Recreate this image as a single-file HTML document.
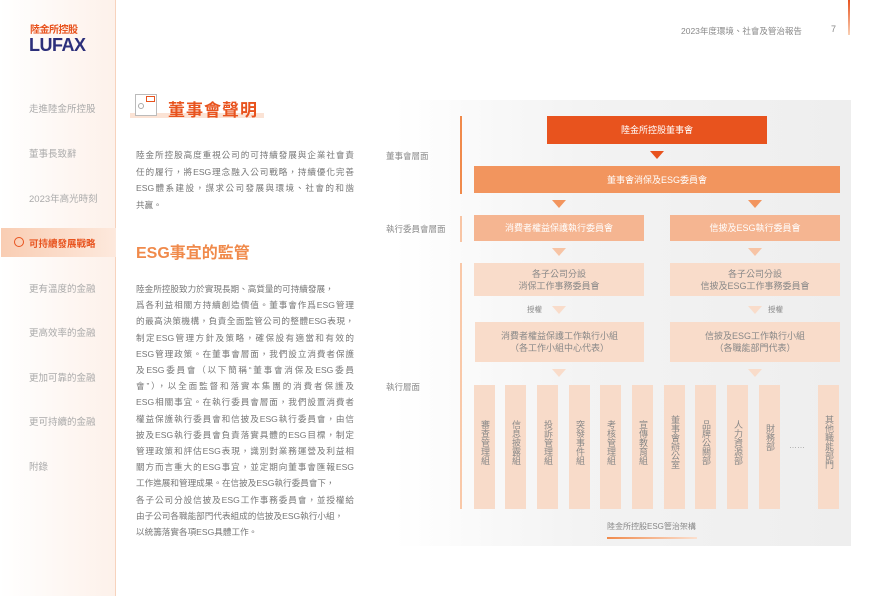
<!DOCTYPE html>
<html><head><meta charset="utf-8"><style>
*{margin:0;padding:0;box-sizing:border-box}
body{width:894px;height:596px;position:relative;overflow:hidden;background:#fff;font-family:"Liberation Sans","Noto Sans CJK TC",sans-serif;color:#777}
.a{position:absolute}
.side{left:0;top:0;width:116px;height:596px;background:linear-gradient(90deg,#fff 0%,#fdf1ea 100%);border-right:1px solid #f7d3bd}
.nav{left:29px;font-size:9.5px;color:#aaa;white-space:nowrap}
.box{position:absolute;display:flex;align-items:center;justify-content:center;text-align:center;font-size:9px;line-height:12px}
.tri{position:absolute;width:0;height:0;border-left:7px solid transparent;border-right:7px solid transparent}
.col{position:absolute;top:385px;width:21px;height:124px;background:#f8dbc9;font-size:9px;color:#888;display:flex;justify-content:center;align-items:center}
.col span{writing-mode:vertical-rl;line-height:11px;margin-top:-10px}
.p{left:136px;width:218px;font-size:8.6px;color:#777;text-align:justify;text-align-last:justify;white-space:nowrap;height:16px;line-height:16px}
.lbl{left:386px;font-size:8.5px;color:#888}
</style></head><body>
<div class="a side"></div>
<div class="a" style="left:30px;top:26px;font-size:10px;line-height:10px;font-weight:bold;color:#e8531e;letter-spacing:-0.5px">陸金所控股</div>
<div class="a" style="left:29px;top:37px;font-size:18px;line-height:16px;font-weight:bold;color:#2c2f7a;letter-spacing:-0.5px">LUFAX</div>
<div class="a nav" style="top:101px">走進陸金所控股</div>
<div class="a nav" style="top:146px">董事長致辭</div>
<div class="a nav" style="top:191px">2023年高光時刻</div>
<div class="a" style="left:1px;top:228px;width:115px;height:29px;background:linear-gradient(90deg,#f9cdb3,#fde9dd)"></div>
<div class="a" style="left:14px;top:237px;width:10px;height:10px;border:1.5px solid #e8531e;border-radius:50%"></div>
<div class="a nav" style="top:236px;color:#e8531e;font-weight:bold">可持續發展戰略</div>
<div class="a nav" style="top:281px">更有溫度的金融</div>
<div class="a nav" style="top:325px">更高效率的金融</div>
<div class="a nav" style="top:370px">更加可靠的金融</div>
<div class="a nav" style="top:414px">更可持續的金融</div>
<div class="a nav" style="top:459px">附錄</div>

<div class="a" style="left:681px;top:25px;font-size:8.5px;color:#888">2023年度環境、社會及管治報告</div>
<div class="a" style="left:831px;top:24px;font-size:9px;color:#888">7</div>
<div class="a" style="left:848px;top:0;width:1.5px;height:35px;background:linear-gradient(#e8531e,#f9d0b5)"></div>

<div class="a" style="left:130px;top:113px;width:134px;height:5px;background:#fbe3d5"></div>
<div class="a" style="left:135px;top:94px;width:22px;height:22px;border:1px solid #bbb;background:#fff"></div>
<div class="a" style="left:146px;top:96px;width:9px;height:6px;border:1.2px solid #e8531e"></div>
<div class="a" style="left:138px;top:103px;width:6px;height:6px;border:1px solid #aaa;border-radius:50%"></div>
<div class="a" style="left:168px;top:96px;font-size:17px;font-weight:bold;color:#e8531e;letter-spacing:1px">董事會聲明</div>

<div class="a p" style="top:147px">陸金所控股高度重視公司的可持續發展與企業社會責</div>
<div class="a p" style="top:164px">任的履行，將ESG理念融入公司戰略，持續優化完善</div>
<div class="a p" style="top:180px">ESG體系建設，謀求公司發展與環境、社會的和諧</div>
<div class="a p" style="top:197px;text-align-last:left">共贏。</div>

<div class="a" style="left:136px;top:239px;font-size:16px;font-weight:bold;color:#f08a4b">ESG事宜的監管</div>
<div class="a p" style="top:281px;text-align-last:left">陸金所控股致力於實現長期、高質量的可持續發展，</div>
<div class="a p" style="top:297px">爲各利益相關方持續創造價值。董事會作爲ESG管理</div>
<div class="a p" style="top:313px">的最高決策機構，負責全面監管公司的整體ESG表現，</div>
<div class="a p" style="top:330px">制定ESG管理方針及策略，確保設有適當和有效的</div>
<div class="a p" style="top:346px">ESG管理政策。在董事會層面，我們設立消費者保護</div>
<div class="a p" style="top:362px">及ESG委員會（以下簡稱“董事會消保及ESG委員</div>
<div class="a p" style="top:378px">會”），以全面監督和落實本集團的消費者保護及</div>
<div class="a p" style="top:394px">ESG相關事宜。在執行委員會層面，我們設置消費者</div>
<div class="a p" style="top:411px">權益保護執行委員會和信披及ESG執行委員會，由信</div>
<div class="a p" style="top:427px">披及ESG執行委員會負責落實具體的ESG目標，制定</div>
<div class="a p" style="top:443px">管理政策和評估ESG表現，識別對業務運營及利益相</div>
<div class="a p" style="top:459px">關方而言重大的ESG事宜，並定期向董事會匯報ESG</div>
<div class="a p" style="top:475px;text-align-last:left">工作進展和管理成果。在信披及ESG執行委員會下，</div>
<div class="a p" style="top:492px">各子公司分設信披及ESG工作事務委員會，並授權給</div>
<div class="a p" style="top:508px;text-align-last:left">由子公司各職能部門代表組成的信披及ESG執行小組，</div>
<div class="a p" style="top:524px;text-align-last:left">以統籌落實各項ESG具體工作。</div>

<div class="a" style="left:395px;top:100px;width:456px;height:446px;background:linear-gradient(90deg,#fff 0%,#f3f3f3 40%,#eeeeee 100%)"></div>
<div class="a" style="left:460px;top:116px;width:1.5px;height:78px;background:#f08a4b"></div>
<div class="a" style="left:460px;top:216px;width:1.5px;height:26px;background:#f8c5a5"></div>
<div class="a" style="left:460px;top:263px;width:1.5px;height:246px;background:#f9c8a8"></div>
<div class="a lbl" style="top:150px">董事會層面</div>
<div class="a lbl" style="top:223px">執行委員會層面</div>
<div class="a lbl" style="top:381px">執行層面</div>

<div class="box" style="left:547px;top:116px;width:220px;height:28px;background:#e8531e;color:#fff">陸金所控股董事會</div>
<div class="tri" style="left:650px;top:151px;border-top:8px solid #e8531e"></div>
<div class="box" style="left:474px;top:166px;width:366px;height:27px;background:#f2955e;color:#fff">董事會消保及ESG委員會</div>
<div class="tri" style="left:552px;top:200px;border-top:8px solid #f2955e"></div>
<div class="tri" style="left:748px;top:200px;border-top:8px solid #f2955e"></div>
<div class="box" style="left:474px;top:215px;width:170px;height:26px;background:#f5b591;color:#fff">消費者權益保護執行委員會</div>
<div class="box" style="left:670px;top:215px;width:170px;height:26px;background:#f5b591;color:#fff">信披及ESG執行委員會</div>
<div class="tri" style="left:552px;top:248px;border-top:8px solid #f7c4a5"></div>
<div class="tri" style="left:748px;top:248px;border-top:8px solid #f7c4a5"></div>
<div class="box" style="left:474px;top:263px;width:170px;height:33px;background:#f9dcca;color:#888">各子公司分設<br>消保工作事務委員會</div>
<div class="box" style="left:670px;top:263px;width:170px;height:33px;background:#f9dcca;color:#888">各子公司分設<br>信披及ESG工作事務委員會</div>
<div class="a" style="left:527px;top:304px;font-size:7.5px;color:#888">授權</div>
<div class="a" style="left:768px;top:304px;font-size:7.5px;color:#888">授權</div>
<div class="tri" style="left:552px;top:306px;border-top:8px solid #f9dcca"></div>
<div class="tri" style="left:748px;top:306px;border-top:8px solid #f9dcca"></div>
<div class="box" style="left:475px;top:322px;width:169px;height:40px;background:#f9dcca;color:#888">消費者權益保護工作執行小組<br>（各工作小組中心代表）</div>
<div class="box" style="left:670px;top:322px;width:170px;height:40px;background:#f9dcca;color:#888">信披及ESG工作執行小組<br>（各職能部門代表）</div>
<div class="tri" style="left:552px;top:369px;border-top:8px solid #f9dcca"></div>
<div class="tri" style="left:748px;top:369px;border-top:8px solid #f9dcca"></div>

<div class="col" style="left:474px"><span>審查管理組</span></div>
<div class="col" style="left:505px"><span>信息披露組</span></div>
<div class="col" style="left:537px"><span>投訴管理組</span></div>
<div class="col" style="left:569px"><span>突發事件組</span></div>
<div class="col" style="left:600px"><span>考核管理組</span></div>
<div class="col" style="left:632px"><span>宣傳教育組</span></div>
<div class="col" style="left:664px"><span>董事會辦公室</span></div>
<div class="col" style="left:695px"><span>品牌公關部</span></div>
<div class="col" style="left:727px"><span>人力資源部</span></div>
<div class="col" style="left:759px"><span style="margin-top:-20px">財務部</span></div>
<div class="a" style="left:789px;top:441px;font-size:8px;color:#999">……</div>
<div class="col" style="left:818px"><span>其他職能部門</span></div>

<div class="a" style="left:607px;top:521px;font-size:8px;color:#888">陸金所控股ESG管治架構</div>
<div class="a" style="left:607px;top:537px;width:90px;height:1.5px;background:linear-gradient(90deg,#f08a4b,#fbe0cf)"></div>
</body></html>
